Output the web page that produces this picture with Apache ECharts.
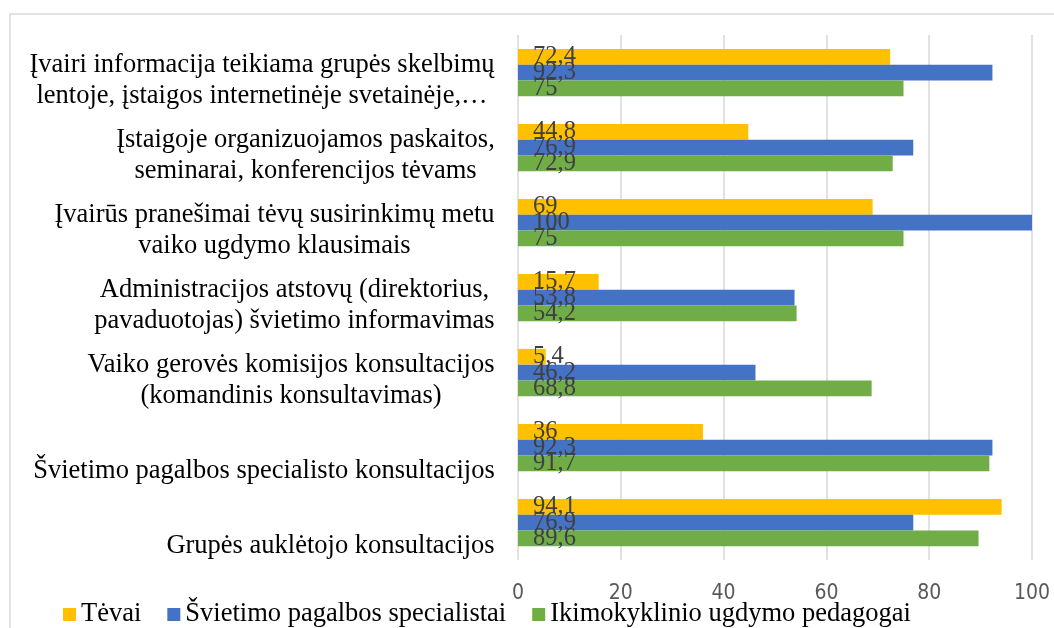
<!DOCTYPE html>
<html>
<head>
<meta charset="utf-8">
<script src="https://cdn.jsdelivr.net/npm/echarts@6/dist/echarts.min.js"></script>
<style>
html,body{margin:0;padding:0;background:#fff;}
#chart{width:1054px;height:628px;}
</style>
</head>
<body>
<div id="chart"></div>
<script>
const categories = [
  "Įvairi informacija teikiama grupės skelbimų\nlentoje, įstaigos internetinėje svetainėje,…",
  "Įstaigoje organizuojamos paskaitos,\nseminarai, konferencijos tėvams",
  "Įvairūs pranešimai tėvų susirinkimų metu\nvaiko ugdymo klausimais",
  "Administracijos atstovų (direktorius,\npavaduotojas) švietimo informavimas",
  "Vaiko gerovės komisijos konsultacijos\n(komandinis konsultavimas)",
  "Švietimo pagalbos specialisto konsultacijos",
  "Grupės auklėtojo konsultacijos"
];
const seriesNames = ["Tėvai", "Švietimo pagalbos specialistai", "Ikimokyklinio ugdymo pedagogai"];
const tevai = [72.4, 44.8, 69, 15.7, 5.4, 36, 94.1];
const specialistai = [92.3, 76.9, 100, 53.8, 46.2, 92.3, 76.9];
const pedagogai = [75, 72.9, 75, 54.2, 68.8, 91.7, 89.6];
const xTicks = [0, 20, 40, 60, 80, 100];

const colors = ['#FFC000', '#4472C4', '#70AD47'];
const serif = '"Liberation Serif", "Times New Roman", serif';
const catFont = '26.5px ' + serif;

// measure lines to center them inside each right-aligned label block
const ctx = document.createElement('canvas').getContext('2d');
ctx.font = catFont;
const rich = {
  s1: {fontSize: 8, lineHeight: 47},
  s2: {fontSize: 8, lineHeight: 17}
};
categories.forEach((c, i) => {
  const lines = c.split('\n');
  const w = Math.ceil(Math.max(...lines.map(l => ctx.measureText(l).width)));
  rich['c' + i] = {
    width: w, align: 'center', fontSize: 26.5, lineHeight: 31,
    fontFamily: serif, color: '#000'
  };
});

const chart = echarts.init(document.getElementById('chart'));
const labelOpt = {
  show: true,
  position: 'insideLeft',
  distance: 15,
  fontFamily: serif,
  fontSize: 24.5,
  color: '#404040',
  formatter: p => String(p.value).replace('.', ',')
};
const data = [tevai, specialistai, pedagogai];
chart.setOption({
  animation: false,
  backgroundColor: '#fff',
  graphic: [{
    type: 'rect', silent: true,
    shape: {x: 10, y: 14, width: 1200, height: 800},
    style: {fill: 'none', stroke: '#d9d9d9', lineWidth: 1.5}
  }],
  grid: {left: 518, right: 22, top: 35, height: 525, containLabel: false},
  legend: {
    left: 58, top: 596,
    itemWidth: 13, itemHeight: 13, itemGap: 26,
    icon: 'rect',
    textStyle: {fontFamily: serif, fontSize: 26.5, color: '#000'},
    data: seriesNames
  },
  xAxis: {
    type: 'value', min: 0, max: 100, interval: 20,
    axisLine: {show: false}, axisTick: {show: false},
    splitLine: {lineStyle: {color: '#d9d9d9', width: 1.5}},
    axisLabel: {
      margin: 23,
      fontFamily: '"Liberation Sans Narrow", "DejaVu Sans Condensed", "Roboto Condensed", sans-serif',
      fontSize: 21, color: '#595959',
      formatter: v => xTicks.includes(v) ? String(v) : ''
    }
  },
  yAxis: {
    type: 'category', inverse: true, data: categories,
    axisLine: {show: false}, axisTick: {show: false},
    axisLabel: {
      margin: 23, align: 'right',
      formatter: (v, i) => {
        const lines = v.split('\n');
        const spacer = '{s' + (lines.length > 1 ? 2 : 1) + '| }';
        return [spacer].concat(lines.map(l => '{c' + i + '|' + l + '}')).join('\n');
      },
      rich: rich
    }
  },
  series: seriesNames.map((n, i) => ({
    name: n, type: 'bar', data: data[i],
    barGap: '0%', barCategoryGap: '37%',
    itemStyle: {color: colors[i]},
    label: labelOpt
  }))
});
</script>
</body>
</html>
